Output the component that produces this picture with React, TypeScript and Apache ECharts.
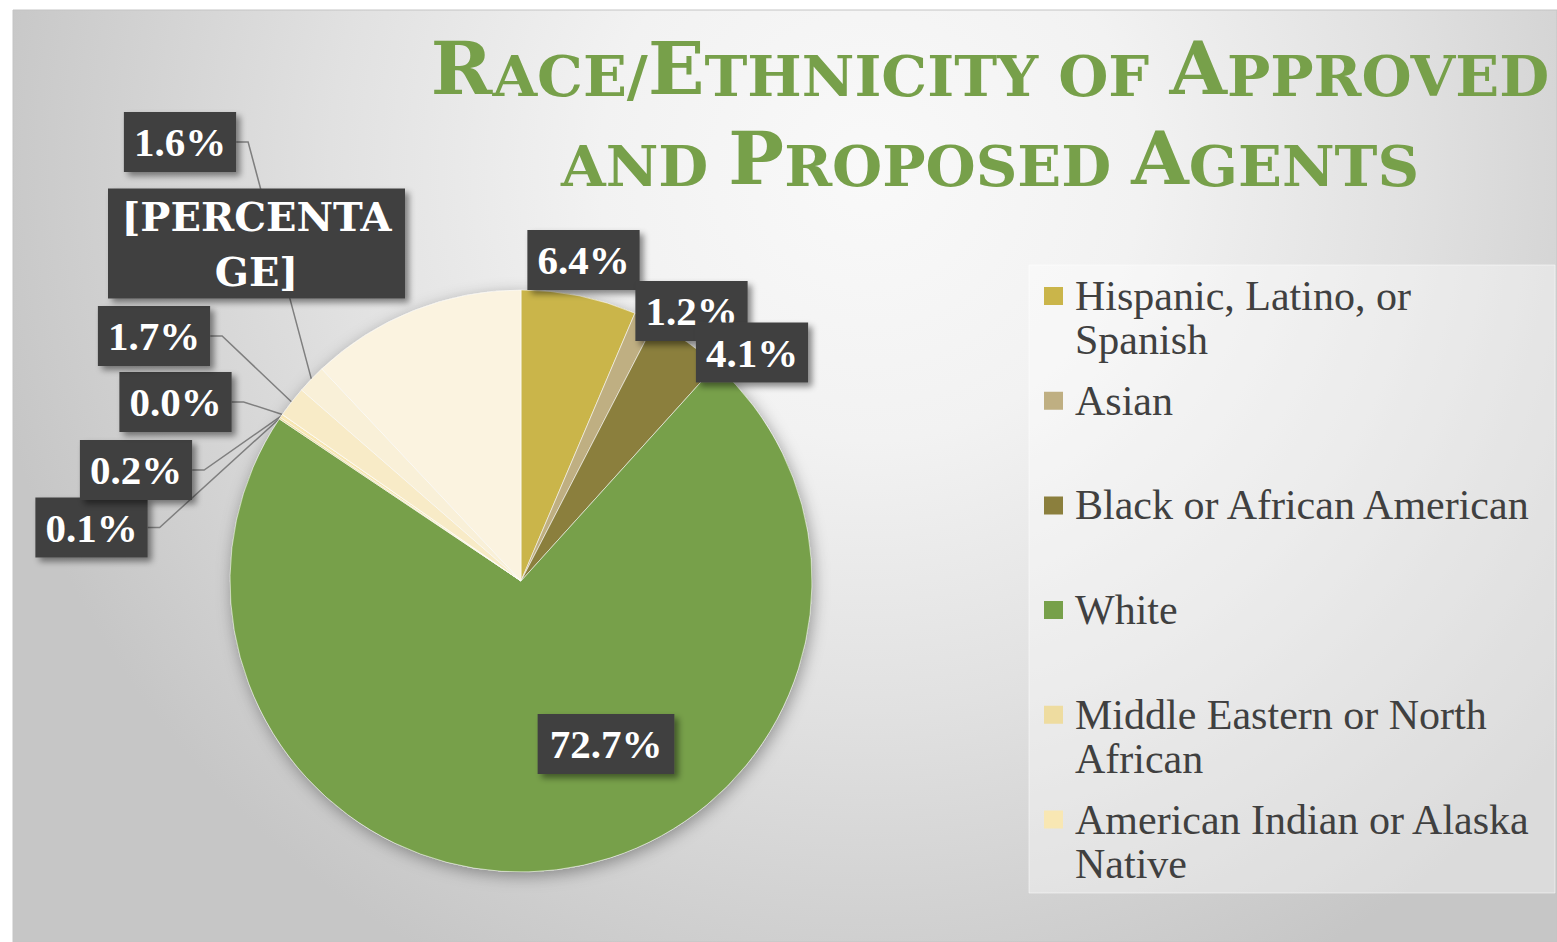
import React, { useEffect, useRef } from 'react';
import * as echarts from 'echarts';

// ---------- data ----------
const categories = [
  'Hispanic, Latino, or Spanish',
  'Asian',
  'Black or African American',
  'White',
  'Middle Eastern or North African',
  'American Indian or Alaska Native',
  'Native Hawaiian or Other Pacific Islander',
  'Two or More Races',
  'Some Other Race',
  'Not Reported',
];
const values = [6.4, 1.2, 4.1, 72.7, 0.1, 0.2, 0.0, 1.7, 1.6, 12.0];
const sliceColors = [
  '#CAB54A', '#BFAF82', '#8B7F3D', '#77A04A', '#EEDCA0',
  '#F8E7B3', '#F5E3AE', '#F8EBC7', '#F9F0D8', '#FBF3E0',
];
const legendNames = categories.slice(0, 6);
const legendLines = [
  'Hispanic, Latino, or\nSpanish',
  'Asian\n ',
  'Black or African American\n ',
  'White\n ',
  'Middle Eastern or North\nAfrican',
  'American Indian or Alaska\nNative',
];
const placeholderIndex = 9;
const placeholderText = '[PERCENTA\nGE]';
const labelTexts = values.map((v, i) => (i === placeholderIndex ? placeholderText : v.toFixed(1) + '%'));
const leaderIndices = [4, 5, 6, 7, 8];
// label box centres (layout, not data)
const labelCenters: number[][] = [
  [583.5, 260], [691.5, 311], [752, 352.5], [606, 744], [91.5, 527.5],
  [136, 470], [175.5, 402], [154, 336], [180, 142], [256.5, 243.5],
];

const titleLine1 = [
  { t: 'R', big: true }, { t: 'ACE/', big: false }, { t: 'E', big: true },
  { t: 'THNICITY OF ', big: false }, { t: 'A', big: true }, { t: 'PPROVED', big: false },
];
const titleLine2 = [
  { t: 'AND ', big: false }, { t: 'P', big: true }, { t: 'ROPOSED ', big: false },
  { t: 'A', big: true }, { t: 'GENTS', big: false },
];

const GREEN = '#77A04A';
const BIG = 72;
const SMALL = 56;
const TITLE_FONT = '"DejaVu Serif"';

function runsWidth(runs: { t: string; big: boolean }[]) {
  const ctx = document.createElement('canvas').getContext('2d');
  if (!ctx) return 1000;
  let w = 0;
  for (const r of runs) {
    ctx.font = `bold ${r.big ? BIG : SMALL}px ${TITLE_FONT}`;
    w += ctx.measureText(r.t).width;
  }
  return w;
}

function richOf(runs: { t: string; big: boolean }[]) {
  return runs.map((r) => `{${r.big ? 'b' : 's'}|${r.t}}`).join('');
}

export default function App() {
  const ref = useRef<HTMLDivElement>(null);

  useEffect(() => {
    const el = ref.current;
    if (!el) return;
    const chart = echarts.init(el, undefined, { renderer: 'svg' });

    const scale = 1118 / runsWidth(titleLine1);
    const c = 0.346;
    const smallLH = 0.308 * BIG + 0.692 * SMALL;
    const baseOff = BIG / 2 + c * BIG;
    const rich = {
      b: {
        fontFamily: TITLE_FONT, fontWeight: 'bold', fontSize: BIG, lineHeight: BIG,
        verticalAlign: 'bottom', fill: GREEN,
      },
      s: {
        fontFamily: TITLE_FONT, fontWeight: 'bold', fontSize: SMALL, lineHeight: smallLH,
        verticalAlign: 'bottom', fill: GREEN,
      },
    };

    const data = values.map((v, i) => {
      const item: any = {
        value: v,
        name: categories[i],
        itemStyle: { color: sliceColors[i] },
        labelLine: { show: leaderIndices.includes(i) },
      };
      if (i === placeholderIndex) {
        item.label = {
          fontFamily: 'DejaVu Serif', fontSize: 40, lineHeight: 55, width: 273, padding: [0, 12],
        };
      }
      if (i === 3) item.label = { padding: [0, 12] };
      return item;
    });

    const option: any = {
      animation: false,
      backgroundColor: '#FFFFFF',
      graphic: [
        {
          type: 'rect', z: -10, silent: true,
          shape: { x: 13, y: 10, width: 1544, height: 932 },
          style: {
            fill: new echarts.graphic.RadialGradient(870, 170, 900, [
              { offset: 0, color: '#F9F9F9' },
              { offset: 0.3, color: '#F2F2F2' },
              { offset: 0.6, color: '#E1E1E1' },
              { offset: 0.85, color: '#D0D0D0' },
              { offset: 1, color: '#C6C6C6' },
            ], true),
            stroke: '#C4C4C4', lineWidth: 1,
          },
        },
        {
          type: 'rect', z: -9, silent: true,
          shape: { x: 1029, y: 265, width: 526, height: 628 },
          style: { fill: 'rgba(255,255,255,0.38)', stroke: 'rgba(255,255,255,0.5)', lineWidth: 1 },
        },
        {
          type: 'text', z: 10, silent: true,
          x: 990, y: 93 - baseOff, scaleX: scale,
          style: {
            text: richOf(titleLine1), rich, fill: GREEN,
            align: 'center', verticalAlign: 'top',
          },
        },
        {
          type: 'text', z: 10, silent: true,
          x: 990, y: 183 - baseOff, scaleX: scale,
          style: {
            text: richOf(titleLine2), rich, fill: GREEN,
            align: 'center', verticalAlign: 'top',
          },
        },
      ],
      legend: {
        data: legendNames,
        orient: 'vertical',
        left: 1044,
        top: 274,
        padding: 0,
        itemWidth: 26,
        itemHeight: 88,
        itemGap: 16.7,
        icon: 'path://M0,13H19V31H0Z M0,0H0.01V0.01H0Z M25.99,87.99H26V88H25.99Z',
        itemStyle: { borderWidth: 0, borderColor: 'transparent' },
        selectedMode: false,
        formatter: (name: string) => legendLines[legendNames.indexOf(name)] ?? name,
        textStyle: {
          fontFamily: 'Liberation Serif', fontSize: 42, lineHeight: 44, color: '#404040',
        },
      },
      series: [
        {
          type: 'pie',
          center: [521, 581],
          radius: 291,
          silent: true,
          data: [{ value: 1, name: 'pie-shadow' }],
          itemStyle: {
            color: '#D0D0D0', shadowBlur: 16, shadowColor: 'rgba(0,0,0,0.35)',
            shadowOffsetX: 2, shadowOffsetY: 4,
          },
          label: { show: false },
          labelLine: { show: false },
          emphasis: { disabled: true },
        },
        {
          type: 'pie',
          center: [521, 581],
          radius: 291,
          startAngle: 90,
          clockwise: true,
          avoidLabelOverlap: false,
          silent: true,
          data,
          itemStyle: { borderColor: 'rgba(255,255,255,0.55)', borderWidth: 1 },
          label: {
            show: true,
            position: 'outside',
            formatter: (p: any) => labelTexts[p.dataIndex],
            color: '#FFFFFF',
            fontFamily: 'Liberation Serif',
            fontWeight: 'bold',
            fontSize: 41,
            lineHeight: 60,
            backgroundColor: '#404040',
            padding: [0, 10],
            overflow: 'none',
            shadowColor: 'rgba(0,0,0,0.45)',
            shadowBlur: 6,
            shadowOffsetX: 4,
            shadowOffsetY: 4,
          },
          labelLine: {
            show: true, length: 10, length2: 12,
            lineStyle: { color: '#7F7F7F', width: 1.5 },
          },
          labelLayout: (params: any) => {
            if (params.seriesIndex !== 1) return {};
            const i = params.dataIndex;
            const pos = labelCenters[i];
            if (!pos) return {};
            const [cx, cy] = pos;
            const out: any = { x: cx, y: cy, align: 'center', verticalAlign: 'middle' };
            const pts = params.labelLinePoints;
            if (pts && pts[0] && leaderIndices.includes(i)) {
              const right = cx + params.labelRect.width / 2;
              out.labelLinePoints = [[pts[0][0], pts[0][1]], [right + 12, cy], [right, cy]];
            }
            return out;
          },
          emphasis: { disabled: true },
        },
      ],
    };

    chart.setOption(option);
    return () => chart.dispose();
  }, []);

  return (
    <div
      ref={ref}
      style={{ position: 'fixed', left: 0, top: 0, width: 1557, height: 942 }}
    />
  );
}
